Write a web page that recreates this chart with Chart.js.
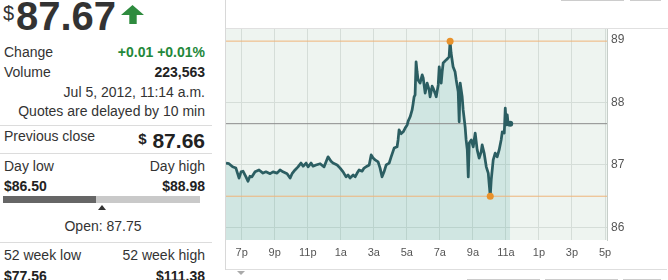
<!DOCTYPE html>
<html><head><meta charset="utf-8">
<script src="https://cdn.jsdelivr.net/npm/chart.js@4.4.1/dist/chart.umd.min.js"></script>
<style>
body{margin:0;width:668px;height:280px;overflow:hidden;background:#fff;font-family:"Liberation Sans",Arial,sans-serif;color:#333;position:relative}
.t{position:absolute;white-space:nowrap;line-height:1;font-size:14px}
.r{right:463px}
.b{font-weight:bold;color:#222}
.sep{position:absolute;left:0;width:212px;height:1px;background:#dcdcdc}
.fr{position:absolute;background:#d8d8d8}
#wrap{position:absolute;left:226px;top:28px;width:442px;height:240px}
</style></head>
<body>
<div class="t" style="left:3px;top:3px;font-size:20px;color:#333">$</div>
<div class="t b" style="left:16px;top:-4px;font-size:40px;color:#333" id="bigPrice"></div>
<svg style="position:absolute;left:0;top:0" width="150" height="30"><polygon points="121,15 132.5,5 144,15 136.7,15 136.7,24 129.3,24 129.3,15" fill="#2e8b3e"/></svg>

<div class="t" style="left:4px;top:45px">Change</div>
<div class="t r b" style="top:45px;color:#23883a" id="chg"></div>
<div class="t" style="left:4px;top:65px">Volume</div>
<div class="t r b" style="top:65px" id="vol"></div>
<div class="t r" style="top:85px" id="stamp"></div>
<div class="t r" style="top:104px">Quotes are delayed by 10 min</div>
<div class="sep" style="top:125px"></div>
<div class="t" style="left:4px;top:129px">Previous close</div>
<div class="t r b" style="top:130px;font-size:21px"><span style="font-size:15px;vertical-align:4px">$</span> <span id="prev"></span></div>
<div class="sep" style="top:153px"></div>
<div class="t" style="left:4px;top:159px">Day low</div>
<div class="t r" style="top:159px">Day high</div>
<div class="t b" style="left:4px;top:179px" id="dlow"></div>
<div class="t r b" style="top:179px" id="dhigh"></div>
<div id="rangeBar" style="position:absolute;left:3px;top:196px;width:197px;height:7px;background:#c9c9c9"><div id="rangeFill" style="position:absolute;left:0;top:0;height:7px;background:#666"></div></div>
<svg id="openTri" style="position:absolute;top:204px" width="10" height="7"><polygon points="5,1 9,6 1,6" fill="#333"/></svg>
<div class="t" style="left:4px;width:198px;text-align:center;top:219px" id="open"></div>
<div class="sep" style="top:242px"></div>
<div class="t" style="left:4px;top:248px">52 week low</div>
<div class="t r" style="top:248px">52 week high</div>
<div class="t b" style="left:4px;top:269px" id="wlow"></div>
<div class="t r b" style="top:269px" id="whigh"></div>

<div class="fr" style="left:225px;top:0;width:1px;height:270px"></div>
<div class="fr" style="left:561px;top:0;width:63px;height:1px;background:#ccc"></div>
<div class="fr" style="left:630px;top:0;width:31px;height:1px;background:#ccc"></div>
<div class="fr" style="left:467px;top:279px;width:73px;height:1px;background:#ccc"></div>
<div class="fr" style="left:545px;top:279px;width:73px;height:1px;background:#ccc"></div>
<div class="fr" style="left:623px;top:279px;width:38px;height:1px;background:#ccc"></div>
<svg style="position:absolute;left:236px;top:270px" width="10" height="6"><polygon points="1,1 9,1 5,5" fill="#aaa"/></svg>

<div id="wrap"><canvas id="c" width="442" height="240" style="width:442px;height:240px"></canvas></div>
<div class="fr" style="left:226px;top:28px;width:442px;height:1px;background:#e0e0e0"></div>
<div class="fr" style="left:226px;top:269px;width:441px;height:1px;background:#dedede"></div>

<script>
// ---- quote panel data ----
const lastPrice = 87.67;
const change = "+0.01 +0.01%";
const volume = "223,563";
const stamp = "Jul 5, 2012, 11:14 a.m.";
const prevClose = 87.66;
const dayLow = 86.50;
const dayHigh = 88.98;
const openPrice = 87.75;
const weekLow52 = 77.56;
const weekHigh52 = 111.38;

// ---- chart data (hours since midnight Jul 4; 24+ = Jul 5) ----
const times = [18.05,18.23,18.45,18.65,18.84,18.96,19.08,19.26,19.38,19.50,19.62,19.81,20.05,20.29,20.47,20.72,20.90,21.14,21.32,21.50,21.75,21.93,22.05,22.23,22.41,22.59,22.72,22.90,23.02,23.20,23.32,23.50,23.75,23.99,24.11,24.23,24.41,24.53,24.78,24.96,25.14,25.32,25.44,25.56,25.75,25.87,25.99,26.11,26.29,26.41,26.59,26.72,26.84,26.96,27.08,27.26,27.38,27.50,27.62,27.75,27.93,28.05,28.23,28.41,28.47,28.53,28.65,28.78,28.90,29.02,29.08,29.20,29.32,29.38,29.44,29.50,29.56,29.62,29.68,29.80,29.93,29.99,30.11,30.23,30.35,30.41,30.53,30.59,30.72,30.78,30.90,30.96,31.02,31.08,31.14,31.20,31.38,31.50,31.56,31.62,31.68,31.80,31.92,31.99,32.11,32.17,32.23,32.35,32.41,32.53,32.59,32.66,32.72,32.78,32.90,33.02,33.14,33.26,33.38,33.50,33.56,33.68,33.81,33.93,33.99,34.05,34.11,34.23,34.35,34.47,34.59,34.71,34.78,34.90,34.96,35.02,35.08,35.14,35.26];
const prices = [87.03,87.02,86.97,86.95,86.79,86.89,86.90,86.81,86.74,86.82,86.81,86.89,86.92,86.87,86.89,86.86,86.89,86.87,86.92,86.89,86.86,86.79,86.86,86.92,86.97,87.03,86.98,87.03,86.97,87.03,86.98,87.00,87.02,86.97,87.05,87.13,87.06,87.03,87.00,86.95,86.89,86.81,86.84,86.79,86.84,86.81,86.87,86.92,86.90,86.95,86.98,87.00,87.16,87.11,87.08,87.05,86.95,86.81,86.89,87.00,87.03,87.13,87.27,87.29,87.40,87.56,87.50,87.53,87.59,87.64,87.70,87.77,87.88,87.98,88.09,88.12,88.65,88.49,88.36,88.31,88.44,88.39,88.15,88.31,88.20,88.09,88.26,88.23,88.14,88.09,88.28,88.57,88.44,88.31,88.49,88.63,88.68,88.71,88.73,88.98,88.79,88.57,88.49,88.36,88.17,87.69,88.31,88.09,87.88,87.61,87.40,87.24,86.81,87.35,87.40,87.29,87.51,87.24,87.11,87.21,87.32,87.19,86.97,86.87,86.68,86.50,86.76,87.08,87.19,87.13,87.24,87.40,87.53,87.51,87.91,87.64,87.80,87.64,87.66];
const tickHours = [19,21,23,25,27,29,31,33,35,37,39,41];
const tickLabels = ["7p","9p","11p","1a","3a","5a","7a","9a","11a","1p","3p","5p"];
const yTicks = [86,87,88,89];
const xMin = 18.05, xMax = 41.12, yMin = 85.8, yMax = 89.19;

// ---- fill quote panel ----
document.getElementById('bigPrice').textContent = lastPrice.toFixed(2);
document.getElementById('chg').textContent = change;
document.getElementById('vol').textContent = volume;
document.getElementById('stamp').textContent = stamp;
document.getElementById('prev').textContent = prevClose.toFixed(2);
document.getElementById('dlow').textContent = '$' + dayLow.toFixed(2);
document.getElementById('dhigh').textContent = '$' + dayHigh.toFixed(2);
document.getElementById('open').textContent = 'Open: ' + openPrice.toFixed(2);
document.getElementById('wlow').textContent = '$' + weekLow52.toFixed(2);
document.getElementById('whigh').textContent = '$' + weekHigh52.toFixed(2);
const barW = 197;
document.getElementById('rangeFill').style.width = ((lastPrice - dayLow) / (dayHigh - dayLow) * barW) + 'px';
document.getElementById('openTri').style.left = (3 + (openPrice - dayLow) / (dayHigh - dayLow) * barW - 5) + 'px';

// ---- chart ----
const series = times.map((t, i) => ({x: t, y: prices[i]}));
let hiI = 0, loI = 0;
prices.forEach((p, i) => { if (p > prices[hiI]) hiI = i; if (p < prices[loI]) loI = i; });
const marks = [{x: times[hiI], y: prices[hiI]}, {x: times[loI], y: prices[loI]}];
const lastPt = [{x: times[times.length - 1], y: prices[prices.length - 1]}];
const hLine = v => [{x: xMin, y: v}, {x: xMax, y: v}];

const bgPlugin = {
  id: 'plotBg',
  beforeDraw(chart) {
    const {ctx, chartArea: a} = chart;
    ctx.save();
    ctx.fillStyle = '#eef4f0';
    ctx.fillRect(a.left, a.top, a.right - a.left, a.bottom - a.top);
    ctx.restore();
  }
};
const noPad = s => { s.paddingTop = 0; s.paddingBottom = 0; s.paddingLeft = 0; s.paddingRight = 0; };

new Chart(document.getElementById('c'), {
  type: 'line',
  data: {
    datasets: [
      {data: marks, showLine: false, pointRadius: 3.5, pointBackgroundColor: '#e8922c', pointBorderWidth: 0},
      {data: lastPt, showLine: false, pointRadius: 3, pointBackgroundColor: '#2b5e62', pointBorderWidth: 0},
      {data: series, borderColor: '#2b5e62', borderWidth: 2.75, pointRadius: 0, tension: 0, fill: 'start', backgroundColor: 'rgba(42,152,148,0.15)', borderJoinStyle: 'round'},
      {data: hLine(prevClose), borderColor: '#8c8c8c', borderWidth: 1, pointRadius: 0},
      {data: hLine(dayHigh), borderColor: '#efb47a', borderWidth: 1, pointRadius: 0},
      {data: hLine(dayLow), borderColor: '#efb47a', borderWidth: 1, pointRadius: 0}
    ]
  },
  options: {
    responsive: false,
    animation: false,
    events: [],
    layout: {padding: 0, autoPadding: false},
    plugins: {legend: {display: false}, tooltip: {enabled: false}, filler: {drawTime: 'beforeDatasetsDraw'}},
    scales: {
      x: {
        type: 'linear', min: xMin, max: xMax,
        afterBuildTicks: s => { s.ticks = tickHours.map(v => ({value: v})); },
        afterFit: s => { s.height = 28; noPad(s); },
        ticks: {callback: (v, i) => tickLabels[i], padding: 6, color: '#555', font: {family: 'Liberation Sans', size: 11}, maxRotation: 0, autoSkip: false},
        grid: {color: '#d5ddd8', drawTicks: false},
        border: {display: false}
      },
      y: {
        position: 'right', min: yMin, max: yMax,
        afterBuildTicks: s => { s.ticks = yTicks.map(v => ({value: v})); },
        afterFit: s => { s.width = 61; noPad(s); },
        ticks: {padding: 4, color: '#555', font: {family: 'Liberation Sans', size: 12}},
        grid: {color: c => (c.tick && c.tick.value === yTicks[yTicks.length - 1]) ? 'rgba(0,0,0,0)' : '#d5ddd8', drawTicks: false},
        border: {color: '#c6cec9'}
      }
    }
  },
  plugins: [bgPlugin]
});
</script>
</body></html>
